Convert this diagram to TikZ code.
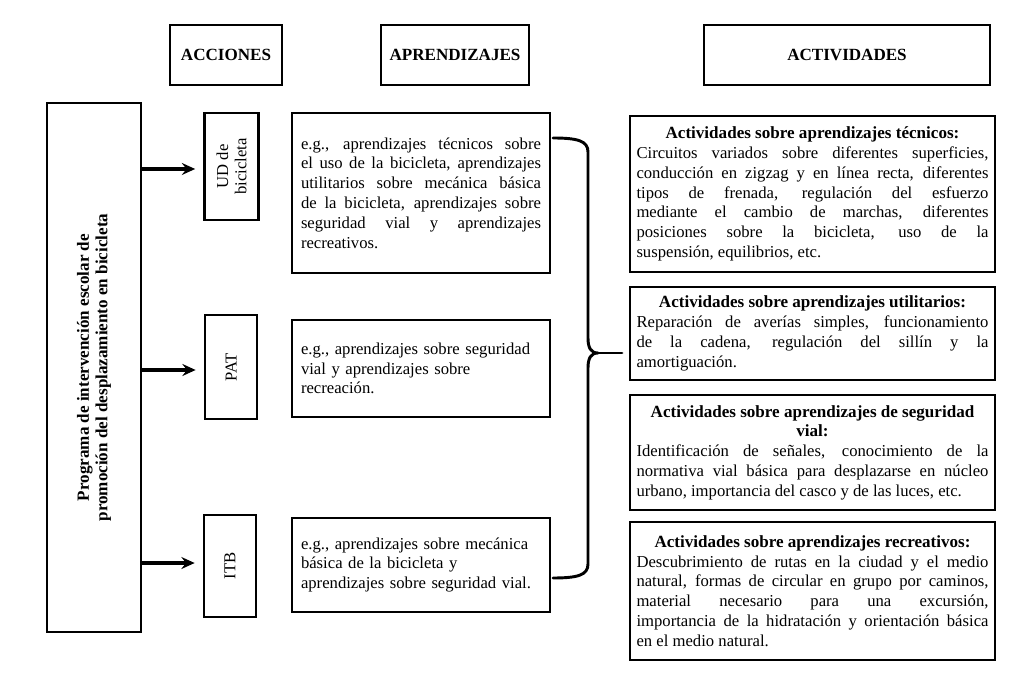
\documentclass[tikz,border=0pt,12pt]{standalone}
\usepackage{fontspec}
\setmainfont{Liberation Serif}
\usetikzlibrary{arrows.meta}
\hyphenpenalty=10000
\exhyphenpenalty=10000
\tolerance=10000
\hbadness=10000
\hfuzz=20pt
\tikzset{
  sz/.style 2 args={minimum width=#1*0.75pt, minimum height=#2*0.75pt},
  box/.style={draw, line width=2pt, rectangle, inner sep=0pt},
  txt/.style={font=\fontsize{12.5}{14.85}\selectfont},
  hdr/.style={box, font=\fontsize{12.8}{14}\selectfont\bfseries},
  rot/.style={rotate=90, align=center, inner sep=0pt, font=\fontsize{12.5}{13.8}\selectfont},
  jbox/.style={box, txt, align=justify},
  lbox/.style={box, txt, align=left},
  arr/.style={line width=2.4pt, -{Stealth[length=10pt,width=9pt,inset=3.5pt]}, shorten >=6pt},
  bracestyle/.style={line width=2.2pt, line cap=round, line join=round},
}
\newcommand{\acthead}[1]{{\centering\fontsize{12.8}{14.85}\selectfont\bfseries #1\par}}
\begin{document}
\begin{tikzpicture}[x=0.75pt,y=-0.75pt]
\useasboundingbox (0,0) rectangle (1010,691);

% headers
\node[hdr, sz={112}{60}] (hacc) at (226,55) {ACCIONES};
\node[hdr, sz={148}{60}] (hapr) at (455,55) {APRENDIZAJES};
\node[hdr, sz={286}{60}] (hact) at (847,55) {ACTIVIDADES};

% programme box
\node[box, sz={94}{529}] (prog) at (94,367.5) {};
\node[rot, font=\fontsize{12.8}{13.8}\selectfont\bfseries] (progtext) at (prog.center)
  {Programa de intervención escolar de\\promoción del desplazamiento en bicicleta};

% action boxes
\node[box, sz={54}{107}] (ud) at (231.5,166.5) {};
\node[rot] (udtext) at (ud.center) {UD de\\bicicleta};
\node[box, sz={52}{104}] (pat) at (231,367) {};
\node[rot] (pattext) at (pat.center) {PAT};
\node[box, sz={52}{102}] (itb) at (230,566) {};
\node[rot] (itbtext) at (itb.center) {ITB};

\draw[arr] ([yshift=-2.5*0.75pt]prog.east |- ud.west) -- ([yshift=-2.5*0.75pt]ud.west);
\draw[arr] ([yshift=-3*0.75pt]prog.east |- pat.west) -- ([yshift=-3*0.75pt]pat.west);
\draw[arr] ([yshift=3*0.75pt]prog.east |- itb.west) -- ([yshift=3*0.75pt]itb.west);

% learning boxes
\node[jbox, sz={258}{160}, text width=180pt] (a1) at (421,193)
  {e.g., aprendizajes técnicos sobre\linebreak
   el uso de la bicicleta, aprendizajes\linebreak
   utilitarios sobre mecánica básica\linebreak
   de la bicicleta, aprendizajes sobre\linebreak
   seguridad vial y aprendizajes\linebreak
   recreativos.};
\node[lbox, sz={258}{97}, text width=180pt] (a2) at (421,368.5)
  {e.g., aprendizajes sobre seguridad\\vial y aprendizajes sobre\\recreación.};
\node[lbox, sz={258}{94}, text width=180pt] (a3) at (421,565)
  {e.g., aprendizajes sobre mecánica\\básica de la bicicleta y\\aprendizajes sobre seguridad vial.};

% brace
\coordinate (bt) at (553,138);
\coordinate (bm) at (598,353);
\coordinate (bb) at (553,578);
\coordinate (tip) at (622,353);
\draw[bracestyle] (bt) .. controls (578,138) and (588,141) .. (588,152) -- (588,338)
  .. controls (588,348) and (591,353) .. (bm)
  .. controls (591,353) and (588,358) .. (588,368) -- (588,564)
  .. controls (588,575) and (578,578) .. (bb);
\draw[bracestyle] (bm) -- (tip);

% activity boxes
\node[jbox, sz={365}{156}, text width=264pt] (c1) at (812.5,194)
  {\acthead{Actividades sobre aprendizajes técnicos:}
   Circuitos variados sobre diferentes superficies,\linebreak
   conducción en zigzag y en línea recta, diferentes\linebreak
   tipos de frenada, regulación del esfuerzo\linebreak
   mediante el cambio de marchas, diferentes\linebreak
   posiciones sobre la bicicleta, uso de la\linebreak
   suspensión, equilibrios, etc.};
\node[jbox, sz={365}{93}, text width=264pt] (c2) at (812.5,333.5)
  {\acthead{Actividades sobre aprendizajes utilitarios:}
   Reparación de averías simples, funcionamiento\linebreak
   de la cadena, regulación del sillín y la\linebreak
   amortiguación.};
\node[jbox, sz={365}{115}, text width=264pt] (c3) at (812.5,452.5)
  {\acthead{Actividades sobre aprendizajes de seguridad\\vial:}
   Identificación de señales, conocimiento de la\linebreak
   normativa vial básica para desplazarse en núcleo\linebreak
   urbano, importancia del casco y de las luces, etc.};
\node[jbox, sz={365}{138}, text width=264pt] (c4) at (812.5,591)
  {\acthead{Actividades sobre aprendizajes recreativos:}
   Descubrimiento de rutas en la ciudad y el medio\linebreak
   natural, formas de circular en grupo por caminos,\linebreak
   material necesario para una excursión,\linebreak
   importancia de la hidratación y orientación básica\linebreak
   en el medio natural.};
\end{tikzpicture}
\end{document}
